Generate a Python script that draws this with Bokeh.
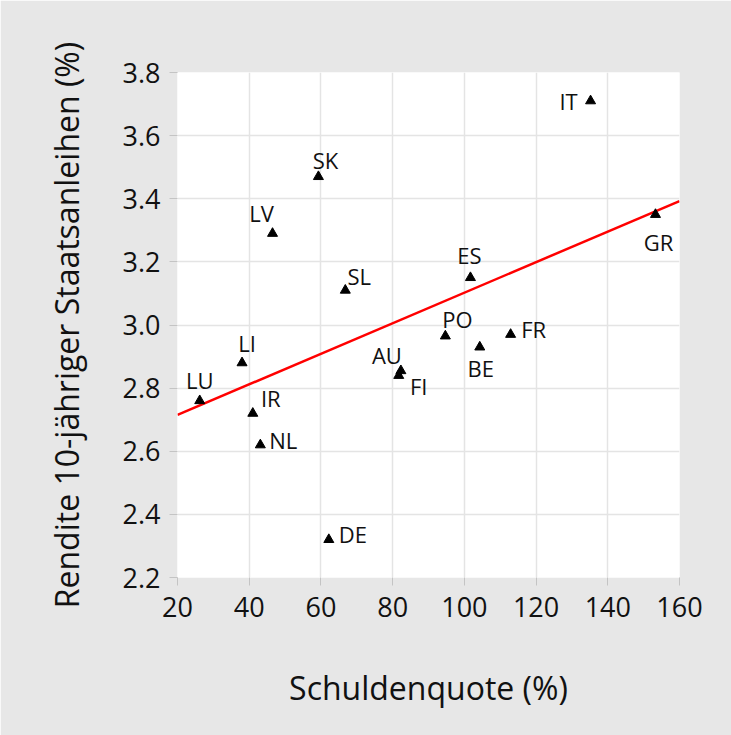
import numpy as np
from bokeh.plotting import figure
from bokeh.models import ColumnDataSource, FixedTicker, NumeralTickFormatter, Range1d
from bokeh.core.properties import value
from bokeh.embed import file_html
from bokeh.resources import INLINE

# ---- data ----
countries = ["IT", "GR", "ES", "PO", "FR", "BE", "AU", "FI",
             "SK", "LV", "SL", "LI", "LU", "IR", "NL", "DE"]
debt_ratio = [135.2, 153.3, 101.7, 94.7, 112.9, 104.3, 82.3, 81.7,
              59.3, 46.5, 66.8, 38.0, 26.2, 41.0, 43.1, 62.2]
bond_yield = [3.71, 3.35, 3.15, 2.965, 2.97, 2.93, 2.855, 2.84,
              3.47, 3.29, 3.11, 2.88, 2.76, 2.72, 2.62, 2.32]
x_ticks = [20, 40, 60, 80, 100, 120, 140, 160]
y_ticks = [2.2, 2.4, 2.6, 2.8, 3.0, 3.2, 3.4, 3.6, 3.8]
x_title = "Schuldenquote (%)"
y_title = "Rendite 10-jähriger Staatsanleihen (%)"

# label placement (pixel offsets from each marker)
label_dx = {"IT": -22, "GR": 3, "ES": -1, "PO": 12, "FR": 23, "BE": 1, "AU": -14, "FI": 20,
            "SK": 7, "LV": -11, "SL": 14, "LI": 5, "LU": 0, "IR": 18, "NL": 23, "DE": 24}
label_dy = {"IT": 0, "GR": 27, "ES": -23, "PO": -17, "FR": -5, "BE": 21, "AU": -16, "FI": 10,
            "SK": -17, "LV": -20, "SL": -14, "LI": -20, "LU": -21, "IR": -15, "NL": -5, "DE": -6}

FONT = "Open Sans"
BG = "#e7e7e7"

src = ColumnDataSource(dict(
    x=debt_ratio, y=bond_yield, name=countries,
    dx=[label_dx[c] for c in countries], dy=[label_dy[c] for c in countries],
))

# least squares trend line over the axis range
slope, intercept = np.polyfit(np.array(debt_ratio), np.array(bond_yield), 1)
tx = [x_ticks[0], x_ticks[-1]]
ty = [intercept + slope * v for v in tx]

p = figure(width=731, height=735, output_backend="svg", toolbar_location=None,
           x_range=Range1d(x_ticks[0], x_ticks[-1]), y_range=Range1d(y_ticks[0], y_ticks[-1]),
           min_border_left=177, min_border_right=52, min_border_top=72, min_border_bottom=158)

p.background_fill_color = "white"
p.border_fill_color = BG
p.outline_line_color = None

for g in (p.xgrid[0], p.ygrid[0]):
    g.grid_line_color = "#e4e4e4"
    g.grid_line_width = 1.5

p.xaxis.ticker = FixedTicker(ticks=x_ticks)
p.yaxis.ticker = FixedTicker(ticks=y_ticks)
p.yaxis.formatter = NumeralTickFormatter(format="0.0")
p.xaxis.formatter = NumeralTickFormatter(format="0")

for ax in (p.xaxis[0], p.yaxis[0]):
    ax.axis_line_color = None
    ax.major_tick_line_color = "#c4c4c4"
    ax.major_tick_line_width = 1
    ax.major_tick_out = 8
    ax.major_tick_in = 0
    ax.minor_tick_line_color = None
    ax.major_label_text_font = FONT
    ax.major_label_text_font_size = "27px"
    ax.major_label_text_color = "#111111"
    ax.axis_label_text_font = FONT
    ax.axis_label_text_font_size = "32px"
    ax.axis_label_text_font_style = "normal"
    ax.axis_label_text_color = "#111111"

p.xaxis.axis_label = x_title
p.yaxis.axis_label = y_title
p.xaxis.major_label_standoff = 11
p.yaxis.major_label_standoff = 9
p.xaxis.axis_label_standoff = 46
p.yaxis.axis_label_standoff = 32

p.line(tx, ty, line_color="#ff0000", line_width=2.5)
p.scatter("x", "y", source=src, marker="triangle", size=10,
          fill_color="black", line_color="black", line_width=1, line_join="round")
p.text("x", "y", text="name", source=src, x_offset="dx", y_offset="dy",
       text_align="center", text_baseline="middle",
       text_font=value(FONT), text_font_size="22px", text_color="#111111")

open("out.html", "w").write(file_html(p, INLINE))
